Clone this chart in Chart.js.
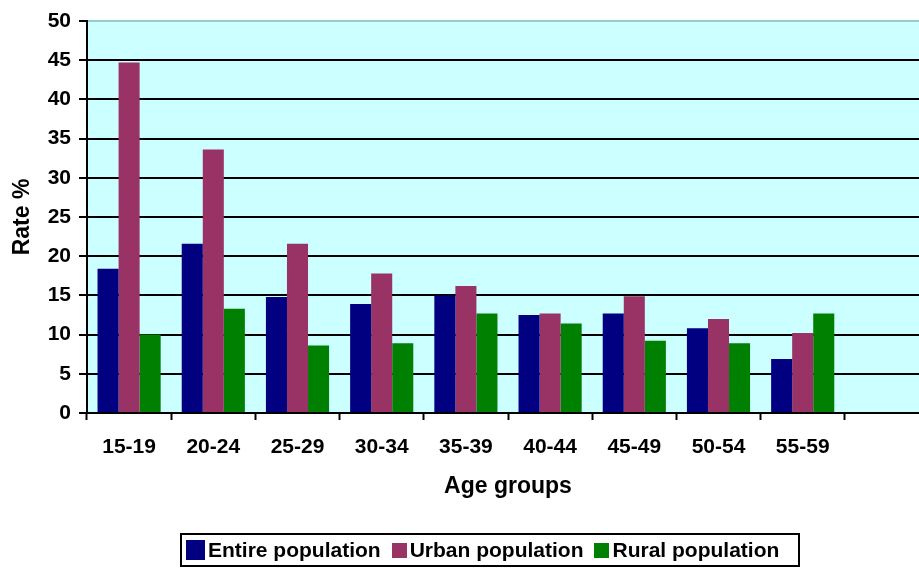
<!DOCTYPE html>
<html>
<head>
<meta charset="utf-8">
<title>Rate by age groups</title>
<script src="https://cdn.jsdelivr.net/npm/chart.js@4.4.1/dist/chart.umd.min.js"></script>
<style>
    html, body { margin: 0; padding: 0; background: #fff; overflow: hidden; }
    #wrap { position: relative; width: 940px; height: 568px; }
    #legend {
        position: absolute; left: 180px; top: 533px; width: 616px; height: 30px;
        border: 2px solid #000; display: flex; align-items: center;
        font: bold 21px 'Liberation Sans', Arial, sans-serif; color: #000;
        box-sizing: content-box;
    }
    #legend .item { display: flex; align-items: center; margin-right: 11px; }
    #legend .box { display: inline-block; margin-right: 3px; }
</style>
</head>
<body>
<div id="wrap">
    <canvas id="chart" width="940" height="568"></canvas>
    <div id="legend"></div>
</div>
<script>
// Dados do gráfico
const ageGroups = ['15-19', '20-24', '25-29', '30-34', '35-39', '40-44', '45-49', '50-54', '55-59', ''];
const entirePopulation = [18.4, 21.6, 14.8, 13.9, 15.0, 12.5, 12.7, 10.8, 6.9];
const urbanPopulation = [44.7, 33.6, 21.6, 17.8, 16.2, 12.7, 14.9, 12.0, 10.2];
const ruralPopulation = [10.0, 13.3, 8.6, 8.9, 12.7, 11.4, 9.2, 8.9, 12.7];
const seriesNames = ['Entire population', 'Urban population', 'Rural population'];
const seriesColors = ['#000080', '#993366', '#008000'];
const yTicks = [0, 5, 10, 15, 20, 25, 30, 35, 40, 45, 50];

const FONT = "'Liberation Sans', Arial, sans-serif";

// Fundo azul claro da área do gráfico
const plotBackground = {
    id: 'plotBackground',
    beforeDraw(chart) {
        const { ctx, chartArea } = chart;
        ctx.save();
        ctx.fillStyle = '#CCFFFF';
        ctx.fillRect(chartArea.left, chartArea.top, chartArea.right - chartArea.left, chartArea.bottom - chartArea.top);
        ctx.restore();
    }
};

const seriesData = [entirePopulation, urbanPopulation, ruralPopulation];

new Chart(document.getElementById('chart'), {
    type: 'bar',
    data: {
        labels: ageGroups,
        datasets: seriesData.map((values, i) => ({
            label: seriesNames[i],
            data: values,
            backgroundColor: seriesColors[i],
            borderWidth: 0,
            barPercentage: 1,
            categoryPercentage: 0.75
        }))
    },
    options: {
        responsive: false,
        animation: false,
        layout: { padding: { top: 21, right: 11, bottom: 68, left: 0 } },
        plugins: {
            legend: { display: false },
            tooltip: { enabled: false }
        },
        scales: {
            x: {
                afterFit: scale => { scale.height = 87; },
                grid: {
                    offset: true,
                    drawOnChartArea: false,
                    drawTicks: true,
                    tickLength: 7,
                    tickColor: '#000',
                    tickWidth: 2
                },
                border: { color: '#000', width: 2 },
                ticks: {
                    color: '#000',
                    padding: 15,
                    maxRotation: 0,
                    autoSkip: false,
                    font: { family: FONT, size: 21, weight: 'bold' }
                },
                title: {
                    display: true,
                    text: 'Age groups',
                    color: '#000',
                    padding: 0,
                    font: { family: FONT, size: 23, weight: 'bold' }
                }
            },
            y: {
                min: 0,
                max: 50,
                afterFit: scale => { scale.width = 87; },
                afterBuildTicks: scale => { scale.ticks = yTicks.map(v => ({ value: v })); },
                grid: {
                    color: ctx => (ctx.tick && ctx.tick.value === 50 ? '#99CCCC' : '#000'),
                    lineWidth: 2,
                    tickLength: 8,
                    tickColor: '#000',
                    tickWidth: 2
                },
                border: { color: '#000', width: 2 },
                ticks: {
                    color: '#000',
                    padding: 8,
                    font: { family: FONT, size: 21, weight: 'bold' }
                },
                title: {
                    display: true,
                    text: 'Rate %',
                    color: '#000',
                    padding: { top: 9, bottom: 0 },
                    font: { family: FONT, size: 23, weight: 'bold' }
                }
            }
        }
    },
    plugins: [plotBackground]
});

// Legenda com borda, como no original
const legend = document.getElementById('legend');
seriesNames.forEach((name, i) => {
    const size = i === 0 ? [19, 20] : [15, 15];
    const item = document.createElement('span');
    item.className = 'item';
    item.style.marginLeft = i === 0 ? '4px' : '0';
    item.innerHTML = `<span class="box" style="width:${size[0]}px;height:${size[1]}px;background:${seriesColors[i]}"></span>${name}`;
    legend.appendChild(item);
});
</script>
</body>
</html>
